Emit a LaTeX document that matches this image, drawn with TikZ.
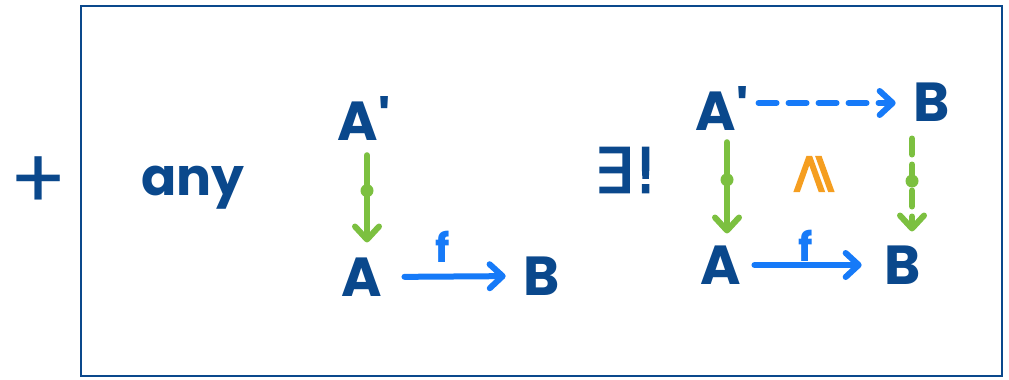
\documentclass[tikz,border=0pt]{standalone}
\usepackage{fontspec}
\setmainfont{Poppins}
\newfontfamily\symfont[FakeBold=2.5]{DejaVu Sans}
\usetikzlibrary{arrows.meta}
\definecolor{ink}{RGB}{10,72,140}
\definecolor{pen}{RGB}{22,122,248}
\definecolor{leaf}{RGB}{124,192,64}
\definecolor{amber}{RGB}{245,158,32}

\begin{document}
\begin{tikzpicture}[x=1pt,y=-1pt,
  lbl/.style={text=ink,inner sep=0pt,font=\fontsize{55}{55}\selectfont\bfseries},
  word/.style={text=ink,inner sep=0pt,font=\fontsize{52}{52}\selectfont\bfseries},
  flabel/.style={text=pen,inner sep=0pt,font=\fontsize{40}{40}\selectfont\bfseries},
  barb/.style={-{Straight Barb[length=13pt,width=24pt,round]}},
  fmap/.style={draw=pen,line width=6pt,line cap=round,barb},
  mono/.style={draw=leaf,line width=6pt,line cap=round,barb},
  blob/.style={circle,fill=leaf,inner sep=0pt,minimum size=13pt},
]
\useasboundingbox (0,0) rectangle (1009,380);

% frame
\draw[ink,line width=2.2pt] (81,6) rectangle (1002,376);

% left of the frame and the word "any"
\node[text=ink,inner sep=0pt,font=\fontsize{85}{85}\selectfont] (plus) at (39,183) {+};
\node[word,anchor=base west] (any) at (141,195) {any};

% the given span A' -> A and the map f
\node[lbl] (Ap) at (364,118) {A\textquotesingle};
\node[lbl] (A)  at (362,277) {A};
\node[lbl] (B)  at (542,276) {B};
\node[flabel] (f) at (443,247) {f};

\draw[mono,shorten <=15pt,shorten >=15pt]
  ([xshift=3pt]Ap.south) -- node[blob,pos=0.43] (m1) {} ([xshift=5pt]A.north);
\draw[fmap,shorten <=22pt,shorten >=18pt] (A.east) -- (B.west);

% unique existence and the completed square
\node[text=ink,inner sep=0pt,font=\fontsize{62}{62}\symfont] (ex) at (626,170) {∃!};

\node[lbl] (Aq) at (722,108) {A\textquotesingle};
\node[lbl] (Bt) at (932,102) {B};
\node[lbl] (Ab) at (721,265) {A};
\node[lbl] (Bb) at (903,265) {B};
\node[flabel] (g) at (806,246) {f};
\node[text=amber,inner sep=0pt,font=\fontsize{56}{56}\symfont,rotate=90] (ge) at (814,174) {⩾};

\draw[fmap,dash pattern=on 18pt off 12pt,shorten <=10pt,shorten >=18pt]
  ([yshift=5pt]Aq.east) -- ([yshift=-1pt]Bt.west);
\draw[mono,shorten <=12pt,shorten >=12pt]
  ([xshift=5pt]Aq.south) -- node[blob,pos=0.43] (m2) {} ([xshift=6pt]Ab.north);
\draw[mono,dash pattern=on 16pt off 10pt,shorten <=17pt,shorten >=14pt]
  ([xshift=-20pt]Bt.south) -- node[blob,pos=0.48] (m3) {} ([xshift=9pt]Bb.north);
\draw[fmap,shorten <=13pt,shorten >=23pt] (Ab.east) -- (Bb.west);
\end{tikzpicture}
\end{document}
